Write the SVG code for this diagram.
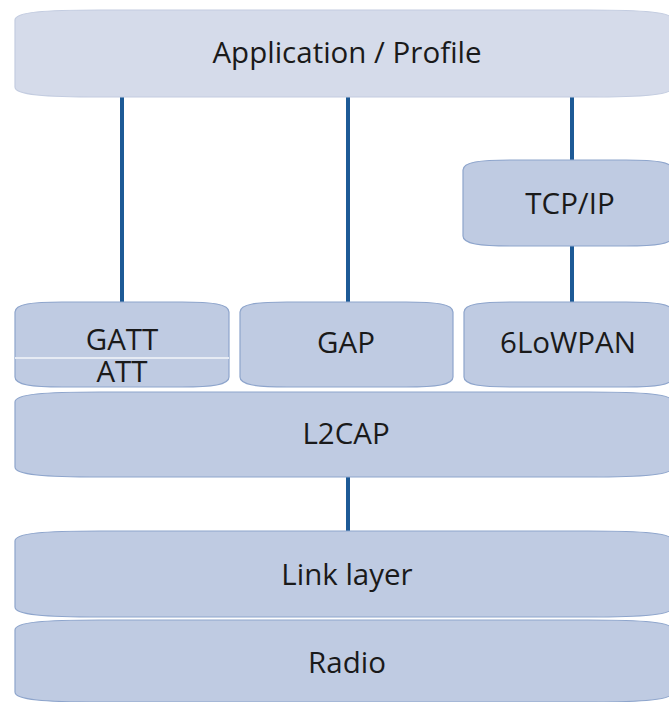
<svg xmlns="http://www.w3.org/2000/svg" width="669" height="702" viewBox="0 0 669 702">
<style>
.box{fill:#bfcbe2;stroke:#8ea5cc;stroke-width:1.2}
.app{fill:#d5dbea;stroke:#c3cce0}
.t{font-family:"Open Sans","DejaVu Sans",sans-serif;font-size:29.5px;fill:#1a1a1a;text-anchor:middle}
.c{stroke:#1d5a96;stroke-width:4;fill:none}
</style>
<rect width="669" height="702" fill="#ffffff"/>
<g id="connectors">
<line class="c" x1="122" y1="96" x2="122" y2="303"/>
<line class="c" x1="348" y1="96" x2="348" y2="303"/>
<line class="c" x1="572" y1="96" x2="572" y2="161"/>
<line class="c" x1="572" y1="245" x2="572" y2="303"/>
<line class="c" x1="348" y1="476" x2="348" y2="532"/>
</g>
<g id="app">
<path class="box app" d="M15,20 C15,12 45,10 100,10 L588,10 C643,10 673,12 673,20 L673,87 C673,95 643,97 588,97 L100,97 C45,97 15,95 15,87 Z"/>
<text class="t" x="347" y="63">Application / Profile</text>
</g>
<g id="tcpip">
<path class="box" d="M463,170 C463,162 480,160 510,160 L626,160 C656,160 673,162 673,170 L673,236 C673,244 656,246 626,246 L510,246 C480,246 463,244 463,236 Z"/>
<text class="t" x="570" y="214">TCP/IP</text>
</g>
<g id="gatt">
<path class="box" d="M15,312 C15,304 32,302 62,302 L182,302 C212,302 229,304 229,312 L229,377 C229,385 212,387 182,387 L62,387 C32,387 15,385 15,377 Z"/>
<line x1="15" y1="358" x2="229" y2="358" stroke="#e6ebf4" stroke-width="2"/>
<text class="t"><tspan x="122" y="350">GATT</tspan><tspan x="122" y="382">ATT</tspan></text>
</g>
<g id="gap">
<path class="box" d="M240,312 C240,304 257,302 287,302 L406,302 C436,302 453,304 453,312 L453,377 C453,385 436,387 406,387 L287,387 C257,387 240,385 240,377 Z"/>
<text class="t" x="346" y="353">GAP</text>
</g>
<g id="lowpan">
<path class="box" d="M464,312 C464,304 481,302 511,302 L626,302 C656,302 673,304 673,312 L673,377 C673,385 656,387 626,387 L511,387 C481,387 464,385 464,377 Z"/>
<text class="t" x="568" y="353">6LoWPAN</text>
</g>
<g id="l2cap">
<path class="box" d="M15,402 C15,394 45,392 100,392 L588,392 C643,392 673,394 673,402 L673,467 C673,475 643,477 588,477 L100,477 C45,477 15,475 15,467 Z"/>
<text class="t" x="346" y="444">L2CAP</text>
</g>
<g id="link">
<path class="box" d="M15,541 C15,533 45,531 100,531 L588,531 C643,531 673,533 673,541 L673,607 C673,615 643,617 588,617 L100,617 C45,617 15,615 15,607 Z"/>
<text class="t" x="347" y="585">Link layer</text>
</g>
<g id="radio">
<path class="box" d="M15,630 C15,622 45,620 100,620 L588,620 C643,620 673,622 673,630 L673,692 C673,700 643,702 588,702 L100,702 C45,702 15,700 15,692 Z"/>
<text class="t" x="347" y="673">Radio</text>
</g>
</svg>
